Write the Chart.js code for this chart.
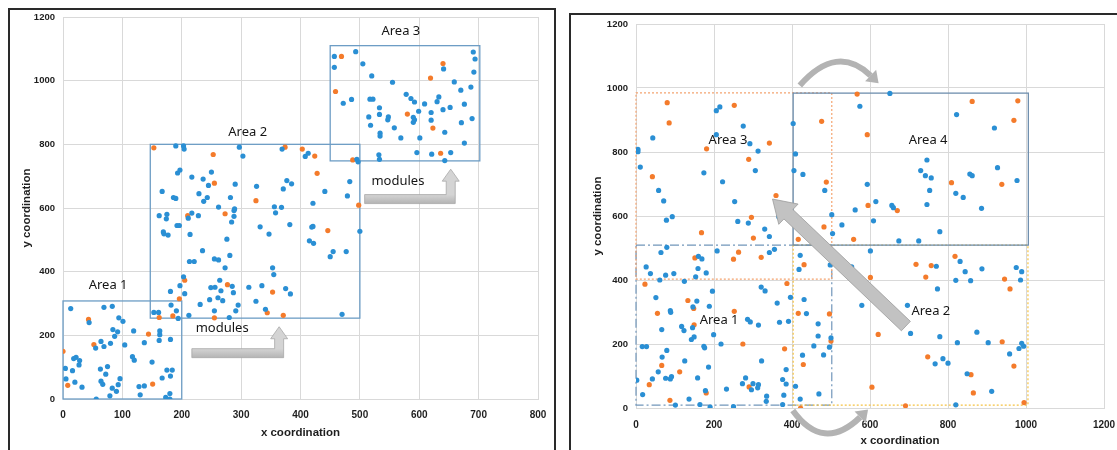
<!DOCTYPE html>
<html><head><meta charset="utf-8">
<script src="https://cdn.jsdelivr.net/npm/chart.js@4.4.1/dist/chart.umd.min.js"></script>
<style>
html,body{margin:0;padding:0;background:#fff;width:1117px;height:450px;overflow:hidden;}
canvas{position:absolute;top:0;}
#c1{left:0}
#c2{left:560px}
.frame{position:absolute;border:2px solid #2a2a2a;box-sizing:border-box;pointer-events:none}
</style></head><body>
<canvas id="c1" width="560" height="450"></canvas>
<canvas id="c2" width="557" height="450"></canvas>
<div class="frame" style="left:8px;top:8px;width:548px;height:470px"></div>
<div class="frame" style="left:569px;top:13px;width:600px;height:470px"></div>
<script>
// ---------- tick labels ----------
const leftXTicks = [0,100,200,300,400,500,600,700,800];
const leftYTicks = [0,200,400,600,800,1000,1200];
const rightXTicks = [0,200,400,600,800,1000,1200];
const rightYTicks = [0,200,400,600,800,1000,1200];

// ---------- left chart data ----------
const leftArea1Blue = [[13,284],[44,240],[69,288],[83,291],[55,160],[64,181],[69,165],[80,175],[84,218],[92,211],[94,255],[101,244],[104,170],[87,197],[119,214],[117,133],[120,122],[137,177],[163,214],[163,202],[162,184],[181,187],[150,116],[167,66],[175,91],[184,91],[181,72],[180,17],[173,5],[180,0],[4,96],[5,63],[16,89],[18,127],[22,131],[28,121],[27,107],[20,53],[32,37],[56,0],[63,94],[72,78],[75,102],[64,56],[67,46],[79,10],[83,34],[90,24],[93,45],[96,64],[128,39],[137,41],[130,13]];
const leftArea1Orange = [[0,150],[43,250],[52,171],[144,204],[151,47],[8,43]];
const leftArea2Blue = [[190,795],[203,795],[204,785],[250,713],[193,710],[197,719],[217,697],[236,691],[245,671],[297,791],[303,763],[290,675],[229,645],[237,621],[243,633],[167,652],[186,633],[190,630],[162,576],[175,580],[174,566],[169,525],[170,519],[177,515],[192,545],[196,545],[211,568],[217,584],[228,576],[214,517],[282,633],[288,592],[289,597],[288,574],[284,556],[262,603],[276,502],[235,466],[281,451],[255,440],[262,437],[273,412],[213,432],[221,432],[203,384],[197,356],[181,338],[205,331],[182,295],[191,277],[194,253],[153,272],[161,272],[212,263],[231,297],[249,350],[256,351],[247,312],[264,373],[266,340],[261,318],[269,309],[285,354],[287,334],[255,277],[280,256],[295,295],[291,277],[313,351],[325,307],[335,356],[341,282],[375,347],[383,330],[353,412],[355,391],[326,668],[332,541],[347,518],[356,604],[358,585],[368,602],[371,660],[377,686],[385,676],[382,548],[369,785],[408,762],[413,772],[441,652],[421,615],[419,540],[421,542],[415,497],[422,489],[455,463],[450,447],[477,463],[470,266],[479,638],[483,683],[495,753],[497,745],[500,527]];
const leftArea2Orange = [[153,789],[253,768],[255,678],[210,576],[273,582],[205,373],[196,315],[162,256],[185,261],[277,359],[255,255],[344,271],[353,336],[371,263],[325,623],[374,791],[403,785],[424,763],[428,709],[446,529],[488,751],[498,609]];
const leftArea3Blue = [[457,1076],[457,1042],[493,1091],[505,1053],[472,929],[486,941],[520,1015],[555,995],[517,942],[522,942],[533,915],[533,894],[515,886],[518,860],[534,835],[534,826],[547,877],[548,886],[558,852],[569,820],[578,957],[586,944],[592,933],[590,885],[592,877],[590,869],[599,904],[601,820],[596,774],[532,767],[533,753],[609,927],[620,900],[620,876],[621,769],[653,774],[643,749],[643,838],[640,909],[633,949],[630,934],[641,1037],[652,916],[659,996],[670,970],[671,868],[676,926],[676,804],[687,980],[689,881],[691,1090],[694,1068],[692,1027]];
const leftArea3Orange = [[469,1076],[459,966],[580,895],[619,1008],[623,851],[636,772],[640,1054]];
// area outlines [x0, x1, y0, y1] (data units)
const leftAreaNames = ['Area 1','Area 2','Area 3'];
const leftAreaBounds = [[0,200,0,308],[147,500,254,800],[450,702,748,1110]];

// ---------- right chart data ----------
const rightArea3Blue = [[43,844],[5,808],[5,801],[11,753],[58,680],[71,647],[78,587],[93,598],[64,486],[79,502],[26,441],[37,420],[61,400],[76,415],[97,420],[124,396],[160,474],[169,466],[159,436],[153,410],[180,422],[174,735],[206,929],[215,941],[206,854],[222,707],[275,881],[292,826],[313,803],[306,742],[253,645],[261,583],[288,578],[366,598],[330,559],[342,536],[208,491],[342,486],[355,496],[403,889],[409,794],[405,742],[428,730],[484,680],[502,604],[504,545],[421,477],[418,433],[498,447]];
const rightArea3Orange = [[80,954],[85,891],[42,723],[168,548],[23,387],[151,469],[181,810],[252,946],[289,777],[342,828],[296,596],[301,531],[359,664],[250,465],[263,487],[321,471],[476,896],[488,706],[482,566],[416,527],[431,448]];
const rightArea4Blue = [[651,983],[574,943],[593,699],[615,645],[609,585],[528,572],[562,619],[656,633],[660,626],[674,522],[725,522],[730,742],[742,726],[746,775],[757,719],[753,680],[746,636],[779,551],[820,671],[839,658],[822,917],[856,731],[862,726],[886,624],[919,875],[927,751],[977,711]];
const rightArea4Orange = [[567,981],[593,854],[595,633],[558,527],[670,617],[809,704],[862,958],[938,699],[969,899],[979,960]];
const rightArea2Blue = [[601,491],[553,441],[579,321],[696,321],[704,233],[770,443],[773,372],[779,223],[767,138],[787,154],[800,140],[831,458],[844,426],[820,399],[858,398],[887,435],[824,204],[874,237],[849,107],[820,10],[903,204],[912,52],[975,439],[989,426],[986,400],[958,169],[982,186],[989,202],[994,193]];
const rightArea2Orange = [[601,408],[621,230],[605,65],[691,7],[718,449],[743,409],[757,445],[748,160],[818,474],[859,104],[865,47],[939,207],[945,403],[959,372],[969,131],[995,17]];
const rightArea1Blue = [[2,87],[17,42],[42,91],[16,192],[27,192],[51,345],[66,245],[67,159],[57,113],[76,93],[79,180],[88,91],[91,98],[88,304],[89,299],[101,9],[117,255],[123,242],[125,147],[146,316],[156,334],[145,251],[142,214],[149,222],[158,94],[136,28],[164,11],[174,193],[176,188],[178,54],[186,128],[188,318],[196,365],[199,229],[190,3],[218,200],[232,59],[250,4],[273,76],[281,94],[286,277],[293,269],[296,57],[300,76],[312,63],[314,73],[314,259],[321,378],[331,366],[322,147],[335,37],[334,21],[362,328],[368,268],[391,271],[396,346],[385,120],[376,89],[385,75],[379,40],[376,11],[409,68],[431,339],[437,295],[427,165],[421,28],[456,194],[467,263],[467,225],[481,166],[469,44],[500,219],[496,190]];
const rightArea1Orange = [[34,73],[55,296],[66,133],[87,24],[112,113],[133,336],[148,311],[149,260],[180,47],[252,302],[274,200],[290,66],[387,389],[381,185],[416,296],[429,136],[422,0],[496,294],[500,209]];
const rightAreaNames = ['Area 1','Area 2','Area 3','Area 4'];
const rightAreaBounds = [[0,502,9,509],[403,1005,9,509],[0,502,403,985],[403,1006,509,984]];

// ---------- styles ----------
const BLUE = '#2a8fd4', ORANGE = '#f47b2b', GRID = '#d9d9d9';
const TICKFONT = {family:'Liberation Sans', size:10, weight:'bold'};
const TITLEFONT = {family:'Liberation Sans', size:11.5, weight:'bold'};
const LABELFONT = '13px "Noto Sans"';

const toPts = a => a.map(p => ({x:p[0], y:p[1]}));
function ds(data, color){
  return {data: toPts(data), backgroundColor: color, borderColor: color, pointRadius: 2.6, pointBorderWidth: 0, pointHoverRadius: 2.6, showLine:false};
}
function P(chart, x, y){ return [chart.scales.x.getPixelForValue(x), chart.scales.y.getPixelForValue(y)]; }

function lArrow(ctx, chart, x0, yc, xs, yTip){
  const [X0, Yb] = P(chart, x0, yc);
  const [Xs, Yt] = P(chart, xs, yTip);
  const t = 9, w = 9, hw = 17, hl = 12;
  ctx.save();
  const g = ctx.createLinearGradient(0, Yb - t/2, 0, Yb + t/2);
  g.addColorStop(0, '#d4d4d4'); g.addColorStop(1, '#b4b4b4');
  ctx.fillStyle = g; ctx.strokeStyle = '#a8a8a8'; ctx.lineWidth = 0.8;
  ctx.beginPath();
  ctx.moveTo(X0, Yb + t/2);
  ctx.lineTo(Xs + w/2, Yb + t/2);
  ctx.lineTo(Xs + w/2, Yt + hl);
  ctx.lineTo(Xs + hw/2, Yt + hl);
  ctx.lineTo(Xs, Yt);
  ctx.lineTo(Xs - hw/2, Yt + hl);
  ctx.lineTo(Xs - w/2, Yt + hl);
  ctx.lineTo(Xs - w/2, Yb - t/2);
  ctx.lineTo(X0, Yb - t/2);
  ctx.closePath(); ctx.fill(); ctx.stroke();
  ctx.restore();
}
function straightArrow(ctx, chart, xa, ya, xb, yb){
  const [A0, A1] = P(chart, xa, ya);
  const [B0, B1] = P(chart, xb, yb);
  const dx = B0 - A0, dy = B1 - A1, L = Math.hypot(dx, dy);
  const ux = dx/L, uy = dy/L, nx = -uy, ny = ux;
  const w = 13, hw = 28, hl = 22;
  const bx = B0 - ux*hl, by = B1 - uy*hl;
  ctx.save();
  ctx.fillStyle = '#c2c2c2'; ctx.strokeStyle = '#9c9c9c'; ctx.lineWidth = 0.8;
  ctx.beginPath();
  ctx.moveTo(A0 + nx*w/2, A1 + ny*w/2);
  ctx.lineTo(bx + nx*w/2, by + ny*w/2);
  ctx.lineTo(bx + nx*hw/2, by + ny*hw/2);
  ctx.lineTo(B0, B1);
  ctx.lineTo(bx - nx*hw/2, by - ny*hw/2);
  ctx.lineTo(bx - nx*w/2, by - ny*w/2);
  ctx.lineTo(A0 - nx*w/2, A1 - ny*w/2);
  ctx.closePath(); ctx.fill(); ctx.stroke();
  ctx.restore();
}
function curvedArrow(ctx, chart, xa, ya, xc, yc, xb, yb){
  const [A0, A1] = P(chart, xa, ya);
  const [C0, C1] = P(chart, xc, yc);
  const [B0, B1] = P(chart, xb, yb);
  const dx = B0 - C0, dy = B1 - C1, L = Math.hypot(dx, dy);
  const ux = dx/L, uy = dy/L, nx = -uy, ny = ux;
  const hl = 11, hw = 16;
  const ex = B0 - ux*hl, ey = B1 - uy*hl;
  ctx.save();
  ctx.strokeStyle = '#b3b3b3'; ctx.lineWidth = 6; ctx.lineCap = 'butt';
  ctx.beginPath(); ctx.moveTo(A0, A1); ctx.quadraticCurveTo(C0, C1, ex, ey); ctx.stroke();
  ctx.fillStyle = '#b3b3b3';
  ctx.beginPath();
  ctx.moveTo(ex + nx*hw/2, ey + ny*hw/2); ctx.lineTo(B0, B1); ctx.lineTo(ex - nx*hw/2, ey - ny*hw/2);
  ctx.closePath(); ctx.fill();
  ctx.restore();
}
function label(ctx, chart, text, x, y){
  const [X, Y] = P(chart, x, y);
  ctx.save(); ctx.font = LABELFONT; ctx.fillStyle = '#151515';
  ctx.textAlign = 'center'; ctx.textBaseline = 'middle';
  ctx.fillText(text, X, Y); ctx.restore();
}

function scales(xTicks, yTicks, xMax, yMax, xH, yW, xTitle){
  return {
    x: {type:'linear', min:0, max:xMax,
        afterBuildTicks: s => { s.ticks = xTicks.map(v => ({value:v})); },
        afterFit: s => { s.height = xH; s.paddingLeft = 0; s.paddingRight = 0; },
        grid:{color:GRID, drawTicks:false}, border:{color:GRID},
        ticks:{padding:xTitle ? 10 : 11, font:TICKFONT, color:'#1e1e1e', maxRotation:0, callback: v => String(v)},
        title:{display:!!xTitle, text:'x coordination', font:TITLEFONT, color:'#1e1e1e', padding:{top:0, bottom:10}}},
    y: {type:'linear', min:0, max:yMax,
        afterBuildTicks: s => { s.ticks = yTicks.map(v => ({value:v})); },
        afterFit: s => { s.width = yW; s.paddingTop = 0; s.paddingBottom = 0; },
        grid:{color:GRID, drawTicks:false}, border:{color:GRID},
        ticks:{padding:8, font:{family:'Liberation Sans', size:9.5, weight:'bold'}, color:'#1e1e1e', callback: v => String(v)},
        title:{display:true, text:'y coordination', font:TITLEFONT, color:'#1e1e1e', padding:{top:10, bottom:0}}}
  };
}

// ---------- left chart ----------
new Chart(document.getElementById('c1'), {
  type:'scatter',
  data:{datasets:[
    ds(leftArea1Blue.concat(leftArea2Blue, leftArea3Blue), BLUE),
    ds(leftArea1Orange.concat(leftArea2Orange, leftArea3Orange), ORANGE)
  ]},
  options:{
    responsive:false, animation:false, devicePixelRatio:1,
    layout:{padding:{left:10, top:17, right:22, bottom:0}},
    plugins:{legend:{display:false}, tooltip:{enabled:false}},
    scales: scales(leftXTicks, leftYTicks, 800, 1200, 51, 53, true)
  },
  plugins:[{
    id:'leftAnno',
    beforeDatasetsDraw(chart){
      const ctx = chart.ctx;
      ctx.save(); ctx.strokeStyle = '#6d9dc5'; ctx.lineWidth = 1.3;
      leftAreaBounds.forEach(b => {
        const [x0, y1] = P(chart, b[0], b[3]);
        const [x1, y0] = P(chart, b[1], b[2]);
        ctx.strokeRect(x0, y1, x1 - x0, y0 - y1);
      });
      ctx.restore();
    },
    afterDatasetsDraw(chart){
      const ctx = chart.ctx;
      lArrow(ctx, chart, 217, 144, 364, 227);
      lArrow(ctx, chart, 508, 628, 653, 722);
      label(ctx, chart, leftAreaNames[0], 76, 358);
      label(ctx, chart, leftAreaNames[1], 311, 839);
      label(ctx, chart, leftAreaNames[2], 569, 1156);
      label(ctx, chart, 'modules', 268, 223);
      label(ctx, chart, 'modules', 564, 685);
    }
  }]
});

// ---------- right chart ----------
new Chart(document.getElementById('c2'), {
  type:'scatter',
  data:{datasets:[
    ds(rightArea1Blue.concat(rightArea2Blue, rightArea3Blue, rightArea4Blue), BLUE),
    ds(rightArea1Orange.concat(rightArea2Orange, rightArea3Orange, rightArea4Orange), ORANGE)
  ]},
  options:{
    responsive:false, animation:false, devicePixelRatio:1,
    layout:{padding:{left:20, top:24, right:13, bottom:0}},
    plugins:{legend:{display:false}, tooltip:{enabled:false}},
    scales: (() => { const s = scales(rightXTicks, rightYTicks, 1200, 1200, 42, 56, false); s.y.title.padding = {top:11, bottom:0}; return s; })()
  },
  plugins:[{
    id:'rightAnno',
    beforeDatasetsDraw(chart){
      const ctx = chart.ctx;
      const styles = [
        {c:'#7196ba', d:[9,3,2,3], w:1.2},
        {c:'#f5c243', d:[2,2], w:1.2},
        {c:'#f4a470', d:[2,2], w:1.2},
        {c:'#6f8fae', d:[], w:1.3}
      ];
      rightAreaBounds.forEach((b, i) => {
        const [x0, y1] = P(chart, b[0], b[3]);
        const [x1, y0] = P(chart, b[1], b[2]);
        ctx.save(); ctx.strokeStyle = styles[i].c; ctx.lineWidth = styles[i].w; ctx.setLineDash(styles[i].d);
        ctx.strokeRect(x0, y1, x1 - x0, y0 - y1); ctx.restore();
      });
    },
    afterDatasetsDraw(chart){
      const ctx = chart.ctx;
      straightArrow(ctx, chart, 692, 256, 350, 653);
      curvedArrow(ctx, chart, 420, 1008, 515, 1140, 622, 1015);
      curvedArrow(ctx, chart, 402, -8, 480, -140, 595, -5);
      label(ctx, chart, rightAreaNames[0], 213, 275);
      label(ctx, chart, rightAreaNames[1], 756, 303);
      label(ctx, chart, rightAreaNames[2], 236, 837);
      label(ctx, chart, rightAreaNames[3], 749, 837);
    },
    afterDraw(chart){
      const ctx = chart.ctx;
      ctx.save();
      ctx.font = 'bold 11.5px "Liberation Sans"'; ctx.fillStyle = '#1e1e1e';
      ctx.textAlign = 'center'; ctx.textBaseline = 'middle';
      ctx.fillText('x coordination', 340, 441);
      ctx.restore();
    }
  }]
});
</script>
</body></html>
